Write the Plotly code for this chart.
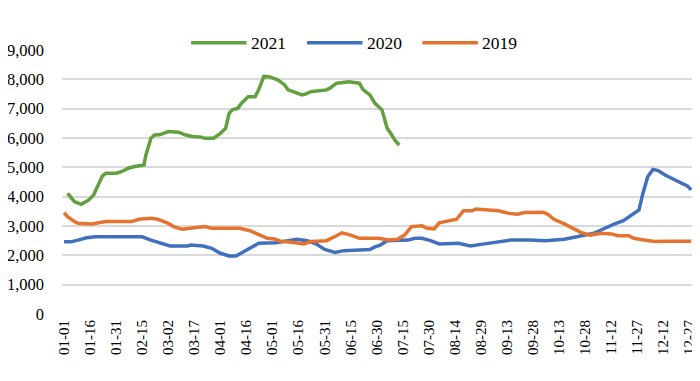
import pandas as pd
import plotly.graph_objects as go

# day offsets from 01-01 and values
days_2021 = [2, 4, 6, 10, 14, 17, 20, 22, 24, 30, 33, 35, 37, 40, 46, 47, 48, 50, 52, 55, 60, 66, 70, 74, 79, 81,
             86, 90, 93, 95, 97, 100, 102, 106, 110, 112, 115, 118, 123, 127, 129, 137, 139, 142, 151, 153, 157,
             164, 170, 172, 176, 179, 183, 186, 188, 191, 193]
vals_2021 = [4110, 3950, 3830, 3740, 3880, 4060, 4460, 4700, 4800, 4800, 4850, 4910, 4970, 5020, 5080, 5400, 5600,
             5990, 6100, 6110, 6220, 6200, 6100, 6050, 6030, 5990, 5990, 6160, 6330, 6840, 6970, 7010, 7180, 7410,
             7410, 7640, 8100, 8090, 7980, 7810, 7640, 7470, 7500, 7580, 7640, 7700, 7870, 7920, 7870, 7660, 7470,
             7180, 6960, 6330, 6160, 5880, 5760]

days_2020 = [0, 4, 8, 13, 18, 45, 50, 58, 61, 71, 73, 80, 85, 90, 95, 99, 103, 108, 112, 122, 128, 134, 140, 145,
             150, 156, 161, 170, 176, 179, 182, 186, 192, 198, 202, 206, 211, 216, 227, 234, 242, 250, 257, 268,
             277, 288, 298, 305, 310, 313, 317, 322, 327, 331, 333, 336, 339, 342, 346, 350, 355, 359, 361]
vals_2020 = [2460, 2460, 2520, 2600, 2630, 2630, 2520, 2390, 2320, 2320, 2350, 2320, 2240, 2070, 1980, 1980, 2120,
             2300, 2410, 2430, 2500, 2550, 2500, 2390, 2200, 2100, 2160, 2180, 2200, 2290, 2350, 2500, 2520, 2520,
             2580, 2580, 2500, 2390, 2410, 2320, 2390, 2460, 2520, 2520, 2500, 2550, 2660, 2750, 2890, 2980, 3070,
             3180, 3380, 3550, 4060, 4680, 4930, 4890, 4740, 4630, 4460, 4360, 4230]

days_2019 = [0, 2, 6, 8, 16, 24, 39, 43, 50, 54, 60, 63, 68, 75, 81, 85, 90, 96, 101, 107, 113, 117, 121, 124, 132,
             138, 142, 151, 156, 160, 165, 170, 181, 187, 192, 196, 200, 206, 209, 213, 216, 220, 226, 230, 235,
             237, 244, 250, 256, 261, 265, 276, 279, 282, 288, 294, 298, 303, 309, 315, 319, 325, 328, 334, 340,
             348, 361]
vals_2019 = [3450, 3320, 3150, 3090, 3070, 3150, 3150, 3230, 3260, 3230, 3090, 2980, 2890, 2950, 2980, 2920, 2920,
             2900, 2920, 2840, 2670, 2580, 2560, 2490, 2440, 2390, 2470, 2500, 2640, 2770, 2690, 2580, 2580, 2520,
             2550, 2690, 2980, 3010, 2920, 2900, 3110, 3150, 3230, 3520, 3520, 3580, 3550, 3520, 3430, 3400, 3460,
             3470, 3380, 3230, 3070, 2890, 2770, 2690, 2750, 2730, 2670, 2670, 2580, 2520, 2470, 2480, 2480]

series_names = ["2021", "2020", "2019"]
series_colors = ["#62A03F", "#4170BE", "#E5732F"]

base = pd.Timestamp("2021-01-01")


def to_dates(days):
    return [base + pd.Timedelta(days=d) for d in days]


FONT = "Liberation Serif"

fig = go.Figure()
for name, color, d, v in zip(series_names, series_colors,
                             [days_2021, days_2020, days_2019],
                             [vals_2021, vals_2020, vals_2019]):
    fig.add_trace(go.Scatter(x=to_dates(d), y=v, mode="lines", name=name,
                             line=dict(color=color, width=3.5), showlegend=False))

# custom legend (long line samples like the original)
legend_pos = [(0.205, 0.293, 0.297), (0.389, 0.477, 0.481), (0.572, 0.660, 0.664)]
for (x0, x1, xt), name, color in zip(legend_pos, series_names, series_colors):
    fig.add_shape(type="line", xref="paper", yref="paper", x0=x0, x1=x1, y0=1.0277, y1=1.0277,
                  line=dict(color=color, width=3.5))
    fig.add_annotation(xref="paper", yref="paper", x=xt, y=1.0277, text=name, showarrow=False,
                       xanchor="left", yanchor="middle", font=dict(family=FONT, size=17.5, color="#000"))

# page body has an 8px margin, so the figure is 8px smaller and margins shifted
fig.update_layout(
    width=692, height=373,
    margin=dict(l=54, r=8, t=42, b=67, autoexpand=False),
    paper_bgcolor="white", plot_bgcolor="white",
    font=dict(family=FONT, size=17, color="#000"),
)
fig.update_xaxes(
    type="date", automargin=False,
    range=[base - pd.Timedelta(days=1.2), base + pd.Timedelta(days=361.5)],
    tick0=base, dtick=15 * 86400000, tickformat="%m-%d", tickangle=-90,
    showgrid=False, zeroline=False, showline=False, ticks="",
    ticklabelstandoff=2, tickfont=dict(family=FONT, size=15),
)
fig.update_yaxes(
    range=[0, 9000], dtick=1000, tickformat=",d", automargin=False,
    showgrid=True, gridcolor="#D9D9D9", gridwidth=1.5, zeroline=False,
    ticks="", ticklabelstandoff=17, tickfont=dict(family=FONT, size=16.5),
)

fig.write_html("out.html")
